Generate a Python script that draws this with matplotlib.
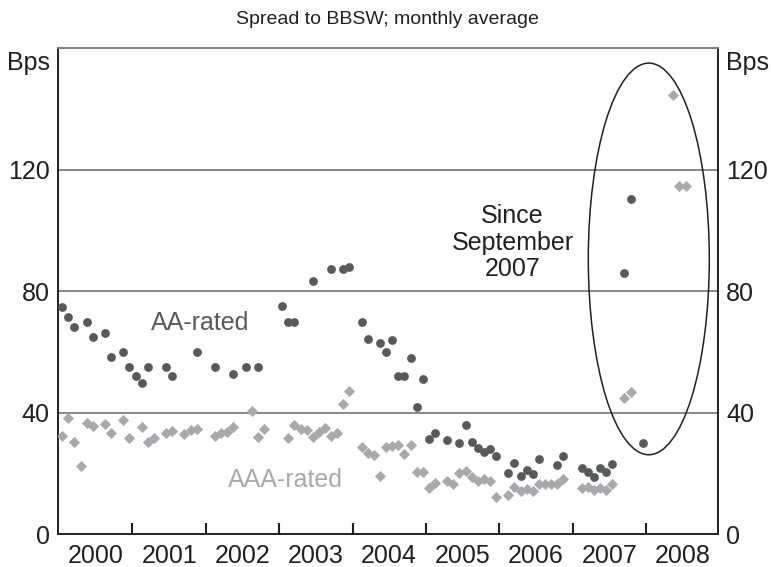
import matplotlib
matplotlib.use("Agg")
import matplotlib.pyplot as plt
from matplotlib.patches import Ellipse

plt.rcParams['font.family'] = ['Liberation Sans Narrow', 'Liberation Sans', 'DejaVu Sans']

# ---------------- data (monthly averages, bps) ----------------
aa_dates = ['2000-01', '2000-02', '2000-03', '2000-05', '2000-06', '2000-08', '2000-09',
            '2000-11', '2000-12', '2001-01', '2001-02', '2001-03', '2001-06', '2001-07',
            '2001-11', '2002-02', '2002-05', '2002-07', '2002-09', '2003-01', '2003-02',
            '2003-03', '2003-06', '2003-09', '2003-11', '2003-12', '2004-02', '2004-03',
            '2004-05', '2004-06', '2004-07', '2004-08', '2004-09', '2004-10', '2004-11',
            '2004-12', '2005-01', '2005-02', '2005-04', '2005-06', '2005-07', '2005-08',
            '2005-09', '2005-10', '2005-11', '2005-12', '2006-02', '2006-03', '2006-04',
            '2006-05', '2006-06', '2006-07', '2006-10', '2006-11', '2007-02', '2007-03',
            '2007-04', '2007-05', '2007-06', '2007-07', '2007-09', '2007-10', '2007-12']
aa_values = [74.8, 71.5, 68.1, 69.9, 65.0, 66.1, 58.4,
             60.0, 55.1, 52.1, 49.9, 55.1, 55.1, 52.1,
             60.0, 55.1, 52.9, 55.1, 55.1, 75.1, 69.9,
             69.9, 83.4, 87.4, 87.4, 88.0, 69.9, 64.1,
             63.0, 60.0, 63.9, 52.1, 52.1, 58.1, 42.0,
             51.0, 31.3, 33.2, 31.0, 30.1, 36.0, 30.3,
             28.5, 27.2, 28.1, 25.8, 20.1, 23.4, 19.2,
             21.2, 19.8, 24.8, 22.8, 25.8, 22.0, 20.6,
             19.0, 21.7, 20.4, 23.0, 86.1, 110.3, 30.1]

aaa_dates = ['2000-01', '2000-02', '2000-03', '2000-04', '2000-05', '2000-06', '2000-08',
             '2000-09', '2000-11', '2000-12', '2001-02', '2001-03', '2001-04', '2001-06',
             '2001-07', '2001-09', '2001-10', '2001-11', '2002-02', '2002-03', '2002-04',
             '2002-05', '2002-08', '2002-09', '2002-10', '2003-02', '2003-03', '2003-04',
             '2003-05', '2003-06', '2003-07', '2003-08', '2003-09', '2003-10', '2003-11',
             '2003-12', '2004-02', '2004-03', '2004-04', '2004-05', '2004-06', '2004-07',
             '2004-08', '2004-09', '2004-10', '2004-11', '2004-12', '2005-01', '2005-02',
             '2005-04', '2005-05', '2005-06', '2005-07', '2005-08', '2005-09', '2005-10',
             '2005-11', '2005-12', '2006-02', '2006-03', '2006-04', '2006-05', '2006-06',
             '2006-07', '2006-08', '2006-09', '2006-10', '2006-11', '2007-02', '2007-03',
             '2007-04', '2007-05', '2007-06', '2007-07', '2007-09', '2007-10', '2008-05',
             '2008-06', '2008-07']
aaa_values = [32.4, 38.4, 30.5, 22.6, 36.8, 35.6, 36.3,
              33.4, 37.6, 31.6, 35.4, 30.5, 31.6, 33.4,
              34.1, 33.0, 34.3, 34.5, 32.3, 33.2, 33.8,
              35.2, 40.7, 32.0, 34.6, 31.6, 36.0, 34.5,
              34.3, 32.0, 33.8, 35.0, 32.5, 33.2, 42.9,
              47.2, 28.8, 26.9, 26.1, 19.3, 28.8, 29.2,
              29.4, 26.4, 29.4, 20.6, 20.6, 15.1, 16.8,
              17.6, 16.6, 20.3, 21.0, 19.0, 17.5, 18.3,
              17.6, 12.4, 12.9, 15.7, 14.3, 14.8, 14.3,
              16.5, 16.5, 16.5, 16.5, 18.1, 15.1, 15.5,
              14.6, 15.1, 14.6, 16.6, 44.7, 46.7, 144.4,
              114.5, 114.5]

years = ['2000', '2001', '2002', '2003', '2004', '2005', '2006', '2007', '2008']
y_ticks = [0, 40, 80, 120]


def to_x(d):
    y, m = d.split('-')
    return int(y) + (int(m) - 0.5) / 12.0


aa_x = [to_x(d) for d in aa_dates]
aaa_x = [to_x(d) for d in aaa_dates]

# ---------------- figure ----------------
DARK = '#58595b'
LIGHT = '#a7a9ac'
TXT = '#231f20'

fig = plt.figure(figsize=(7.71, 5.67), dpi=100)
ax = fig.add_axes([0.0752, 0.0575, 0.8561, 0.858])

x0 = int(years[0]) - 0.016
ax.set_xlim(x0, x0 + len(years))
ax.set_ylim(0, 160)

for v in y_ticks[1:]:
    ax.axhline(v, color='#7f7f7f', lw=1.3, zorder=1)

ax.scatter(aaa_x, aaa_values, marker='D', s=32, color=LIGHT, linewidths=0, zorder=3)
ax.scatter(aa_x, aa_values, marker='o', s=40, color=DARK, linewidths=0, zorder=4)

# ellipse around the "since September 2007" observations
ax.add_patch(Ellipse((2008.04, 90.6), 1.65, 128.8, fill=False, ec='#231f20', lw=1.1, zorder=5))

# spines
for s in ['left', 'right', 'bottom']:
    ax.spines[s].set_color('#231f20')
    ax.spines[s].set_linewidth(1.4)
ax.spines['top'].set_color('#7f7f7f')
ax.spines['top'].set_linewidth(1.4)

# x ticks: boundaries as major ticks, labels centred on each year
ax.set_xticks([int(y) for y in years[1:]])
ax.set_xticklabels([])
ax.set_xticks([int(y) + 0.5 for y in years], minor=True)
ax.set_xticklabels(years, minor=True)
ax.tick_params(axis='x', which='major', direction='in', length=8, width=1.5, color='#231f20')
ax.tick_params(axis='x', which='minor', length=0, pad=7, labelsize=18, labelcolor=TXT)

# y ticks on both sides, plus the "Bps" unit label at the top
ax.set_yticks(y_ticks + [156])
ax.set_yticklabels([str(v) for v in y_ticks] + ['Bps'])
ax.tick_params(axis='y', length=0, pad=6, labelsize=18, labelcolor=TXT,
               left=True, right=True, labelleft=True, labelright=True)

# annotations
ax.text(2001.92, 69.5, 'AA-rated', color=DARK, fontsize=18, ha='center', va='center')
ax.text(2003.09, 17.9, 'AAA-rated', color=LIGHT, fontsize=18, ha='center', va='center')
ax.text(2006.18, 96.0, 'Since\nSeptember\n2007', color=TXT, fontsize=18,
        ha='center', va='center', linespacing=1.12)

fig.text(0.503, 1 - 19 / 567, 'Spread to BBSW; monthly average', color=TXT,
         fontsize=14, ha='center', va='center')

fig.savefig('out.png', dpi=100)
